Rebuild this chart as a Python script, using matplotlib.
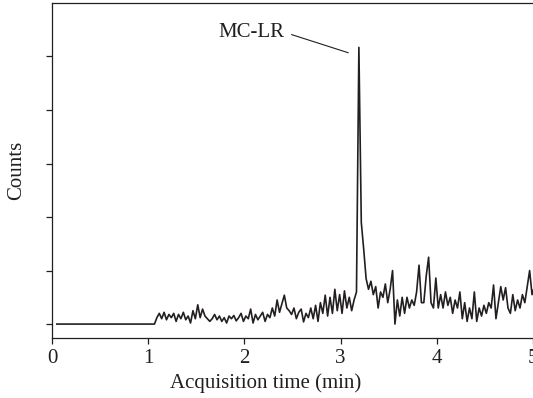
import numpy as np
import matplotlib
matplotlib.use("Agg")
import matplotlib.pyplot as plt

plt.rcParams['font.family'] = ['Liberation Serif', 'DejaVu Serif']

# flat part before the detector starts picking up signal
flat_time = [0.05, 1.065]
flat_counts = [0.0, 0.0]

# noisy trace, sampled every 0.025 min from 1.065 min
t_start = 1.065
t_step = 0.025
counts = [
    0.0, 0.12, 0.2, 0.1, 0.22, 0.08, 0.18, 0.12,
    0.2, 0.05, 0.18, 0.1, 0.22, 0.08, 0.15, 0.02,
    0.25, 0.1, 0.36, 0.12, 0.28, 0.15, 0.1, 0.05,
    0.1, 0.18, 0.08, 0.15, 0.05, 0.12, 0.02, 0.15,
    0.1, 0.16, 0.06, 0.12, 0.2, 0.05, 0.15, 0.1,
    0.28, 0.02, 0.18, 0.08, 0.15, 0.22, 0.05, 0.18,
    0.12, 0.3, 0.15, 0.45, 0.22, 0.38, 0.54, 0.3,
    0.25, 0.18, 0.3, 0.1, 0.22, 0.28, 0.04, 0.2,
    0.12, 0.3, 0.1, 0.35, 0.05, 0.4, 0.2, 0.54,
    0.15, 0.5, 0.2, 0.65, 0.25, 0.55, 0.2, 0.62,
    0.3, 0.5, 0.25, 0.45, 0.6, 5.17, 1.9, 1.4,
    0.85, 0.65, 0.8, 0.55, 0.7, 0.3, 0.6, 0.5,
    0.75, 0.4, 0.65, 1.0, 0.0, 0.45, 0.15, 0.5,
    0.2, 0.5, 0.3, 0.45, 0.35, 0.6, 1.1, 0.4,
    0.4, 0.9, 1.25, 0.4, 0.3, 0.86, 0.3, 0.55,
    0.3, 0.6, 0.35, 0.5, 0.2, 0.45, 0.3, 0.6,
    0.1, 0.4, 0.05, 0.3, 0.1, 0.6, 0.05, 0.3,
    0.15, 0.35, 0.2, 0.4, 0.3, 0.73, 0.1, 0.4,
    0.7, 0.45, 0.68, 0.3, 0.2, 0.55, 0.25, 0.45,
    0.3, 0.55, 0.4, 0.7, 1.0, 0.55, 0.7,
]
time = t_start + t_step * np.arange(len(counts))

x_ticks = [0, 1, 2, 3, 4, 5]
y_ticks = [0, 1, 2, 3, 4, 5]

fig = plt.figure(figsize=(5.33, 3.98), dpi=100)
ax = fig.add_axes([0.0976, 0.1508, 0.9024, 0.8417])

line_color = '#231f20'
ax.plot(flat_time + list(time), flat_counts + counts, color=line_color, lw=1.2)

ax.set_xlim(0, 5)
ax.set_ylim(-0.26, 6.0)
ax.set_xticks(x_ticks)
ax.set_xticklabels([str(v) for v in x_ticks], fontsize=15)
ax.set_yticks(y_ticks)
ax.set_yticklabels([])
ax.tick_params(axis='both', direction='out', length=4, width=0.9, color=line_color,
               labelcolor=line_color, pad=4)
ax.spines['right'].set_visible(False)
for s in ['left', 'bottom', 'top']:
    ax.spines[s].set_linewidth(0.9)
    ax.spines[s].set_color(line_color)

ax.set_xlabel('Acquisition time (min)', fontsize=15, color=line_color)
ax.xaxis.set_label_coords(0.445, -0.105)
ax.set_ylabel('Counts', fontsize=15, color=line_color, labelpad=11)

ax.annotate('MC-LR', xy=(3.08, 5.07), xytext=(2.42, 5.45), ha='right', va='center',
            fontsize=15, color=line_color,
            arrowprops=dict(arrowstyle='-', lw=0.8, color=line_color,
                            relpos=(1, 0.5), shrinkA=3, shrinkB=0))

fig.savefig('out.png', dpi=100)
